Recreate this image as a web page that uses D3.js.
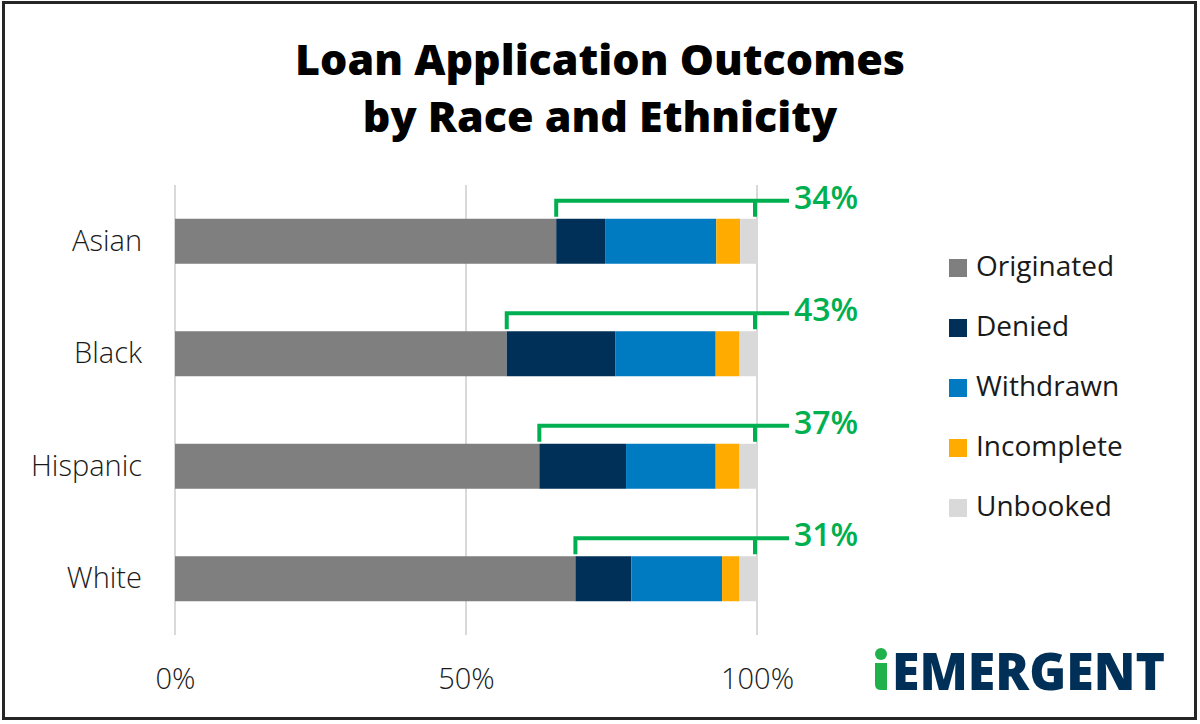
<!DOCTYPE html>
<html>
<head>
<meta charset="utf-8">
<script src="https://cdn.jsdelivr.net/npm/d3@7"></script>
<style>
  body { margin: 0; background: #fff; }
  text { font-family: "Open Sans", "Noto Sans", sans-serif; }
</style>
</head>
<body>
<script>

var categories = ["Asian", "Black", "Hispanic", "White"];
var seriesNames = ["Originated", "Denied", "Withdrawn", "Incomplete", "Unbooked"];
var originated = [65.5, 57.0, 62.6, 68.8];
var denied = [8.4, 18.7, 14.9, 9.6];
var withdrawn = [19.1, 17.2, 15.4, 15.6];
var incomplete = [4.1, 4.1, 4.1, 3.0];
var unbooked = [2.9, 3.0, 3.0, 3.0];
var notOriginatedLabels = ["34%", "43%", "37%", "31%"];
var tickValues = [0, 50, 100];

var colors = ["#7f7f7f", "#003058", "#007bc2", "#ffab00", "#d9d9d9"];
var green = "#00b050";

var rows = categories.map(function(c, i){
	return {
		cat: c,
		Originated: originated[i],
		Denied: denied[i],
		Withdrawn: withdrawn[i],
		Incomplete: incomplete[i],
		Unbooked: unbooked[i]
	};
});

var svg = d3.select("body")
	.append("svg")
	.attr("width", 1200)
	.attr("height", 724);

svg.append("rect")
	.attr("x", 3.5)
	.attr("y", 2.5)
	.attr("width", 1192)
	.attr("height", 716)
	.attr("fill", "#fff")
	.attr("stroke", "#262626")
	.attr("stroke-width", 3);

// title
var title = svg.append("text")
	.attr("text-anchor", "middle")
	.attr("font-size", 43)
	.attr("font-weight", 800)
	.attr("fill", "#000");
title.append("tspan").attr("x", 600).attr("y", 75).text("Loan Application Outcomes");
title.append("tspan").attr("x", 600).attr("y", 132).text("by Race and Ethnicity");

var x = d3.scaleLinear().domain([0, 100]).range([175, 757]);
var y = d3.scaleBand().domain(categories).range([185, 635]).paddingInner(0.6).paddingOuter(0.3);

// gridlines
svg.append("g").selectAll("line")
	.data(tickValues)
	.enter().append("line")
	.attr("x1", function(d){ return x(d); })
	.attr("x2", function(d){ return x(d); })
	.attr("y1", 185)
	.attr("y2", 635)
	.attr("stroke", "#d9d9d9")
	.attr("stroke-width", 2);

// x axis labels
var xAxis = d3.axisBottom(x).tickValues(tickValues).tickSize(0).tickPadding(0)
	.tickFormat(function(d){ return d + "%"; });
var gx = svg.append("g").attr("transform", "translate(0,668)").call(xAxis);
gx.select(".domain").remove();
gx.selectAll("text")
	.attr("font-size", 29)
	.attr("font-weight", 300)
	.attr("fill", "#1a1a1a")
	.attr("dy", "0.71em");

// y axis labels
var yAxis = d3.axisLeft(y).tickSize(0).tickPadding(33);
var gy = svg.append("g").attr("transform", "translate(175,0)").call(yAxis);
gy.select(".domain").remove();
gy.selectAll("text")
	.attr("font-size", 29)
	.attr("font-weight", 300)
	.attr("fill", "#1a1a1a");

// stacked bars
var stack = d3.stack().keys(seriesNames);
var layers = stack(rows);

svg.append("g").selectAll("g")
	.data(layers)
	.enter().append("g")
	.attr("fill", function(d, i){ return colors[i]; })
	.selectAll("rect")
	.data(function(d){ return d; })
	.enter().append("rect")
	.attr("x", function(d){ return x(d[0]); })
	.attr("width", function(d){ return x(d[1]) - x(d[0]); })
	.attr("y", function(d){ return y(d.data.cat); })
	.attr("height", y.bandwidth());

// brackets for share not originated
var br = svg.append("g").selectAll("g")
	.data(rows)
	.enter().append("g");

br.append("path")
	.attr("fill", "none")
	.attr("stroke", green)
	.attr("stroke-width", 4)
	.attr("d", function(d){
		var top = y(d.cat) - 18;
		var x0 = x(d.Originated);
		var x1 = x(100) - 2;
		return "M" + x0 + "," + (top + 16) + "V" + top + "H" + (x1 + 34) +
			"M" + x1 + "," + top + "V" + (top + 16);
	});

br.append("text")
	.attr("x", x(100) + 37)
	.attr("y", function(d){ return y(d.cat) - 10; })
	.attr("font-size", 32)
	.attr("font-weight", 600)
	.attr("fill", green)
	.text(function(d, i){ return notOriginatedLabels[i]; });

// legend
var legend = svg.append("g").selectAll("g")
	.data(seriesNames)
	.enter().append("g")
	.attr("transform", function(d, i){ return "translate(949," + (268 + i * 60) + ")"; });

legend.append("rect")
	.attr("x", 0)
	.attr("y", -9)
	.attr("width", 18)
	.attr("height", 18)
	.attr("fill", function(d, i){ return colors[i]; });

legend.append("text")
	.attr("x", 27)
	.attr("y", 8)
	.attr("font-size", 28)
	.attr("fill", "#1a1a1a")
	.text(function(d){ return d; });

// logo
var logo = svg.append("g");
logo.append("circle")
	.attr("cx", 881)
	.attr("cy", 654)
	.attr("r", 6)
	.attr("fill", "#21b14b");
logo.append("path")
	.attr("fill", "#21b14b")
	.attr("d", "M875,663H887V690H881Q875,690 875,684Z");
logo.append("text")
	.attr("x", 892)
	.attr("y", 690)
	.attr("font-size", 52)
	.attr("font-weight", 800)
	.attr("fill", "#003058")
	.attr("textLength", 273)
	.attr("lengthAdjust", "spacingAndGlyphs")
	.text("EMERGENT");

</script>
</body>
</html>
